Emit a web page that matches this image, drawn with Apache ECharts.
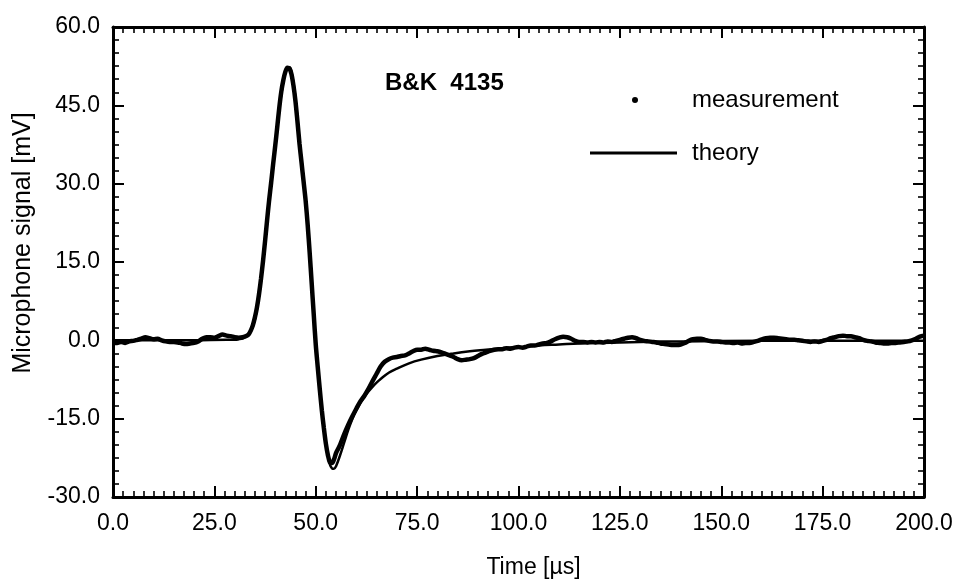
<!DOCTYPE html>
<html>
<head>
<meta charset="utf-8">
<script src="https://cdn.jsdelivr.net/npm/echarts@6/dist/echarts.min.js"></script>
<style>
html,body{margin:0;padding:0;background:#fff;}
#chart{width:957px;height:579px;}
</style>
</head>
<body>
<div id="chart"></div>
<script>
// ---- Data ----
const xTicks = [0, 25, 50, 75, 100, 125, 150, 175, 200];
const yTicks = [-30, -15, 0, 15, 30, 45, 60];

// measurement: three sampling segments
const measSeg1Start = 0, measSeg1Step = 1; // t = 0..32
const measSeg1 = [-0.4,-0.5,-0.3,-0.5,-0.2,-0.1,0.1,0.3,0.6,0.4,0.2,0.3,0.0,-0.2,-0.3,-0.3,-0.4,-0.6,-0.7,-0.6,-0.5,-0.2,0.3,0.6,0.6,0.5,0.8,1.1,0.9,0.8,0.6,0.5,0.6];
const measSeg2Start = 33, measSeg2Step = 0.5; // t = 33..56
const measSeg2 = [0.9,1.2,1.9,2.9,4.4,6.3,8.8,11.8,15.2,19.0,23.0,26.8,30.2,33.8,37.2,40.8,44.5,47.6,49.8,51.4,52.2,52.1,51.0,48.8,45.8,41.8,37.6,34.0,30.4,26.8,22.2,16.8,10.9,5.0,-0.8,-5.2,-9.4,-13.4,-16.8,-19.8,-22.0,-23.4,-23.5,-22.8,-21.6,-20.8,-20.0];
const measSeg3Start = 57, measSeg3Step = 1; // t = 57..200
const measSeg3 = [-18.0,-16.2,-14.6,-13.1,-11.7,-10.6,-9.3,-7.8,-6.4,-5.0,-4.1,-3.6,-3.3,-3.2,-3.0,-2.9,-2.5,-2.1,-1.8,-1.8,-1.6,-1.8,-2.0,-2.1,-2.3,-2.6,-2.9,-3.2,-3.6,-3.8,-3.7,-3.6,-3.4,-3.0,-2.6,-2.3,-2.0,-1.8,-1.7,-1.7,-1.5,-1.6,-1.4,
-1.3,-1.4,-1.2,-1.0,-1.0,-0.8,-0.6,-0.5,-0.2,0.2,0.5,0.7,0.6,0.3,-0.1,-0.3,-0.3,-0.4,-0.3,-0.4,
-0.3,-0.4,-0.2,-0.3,-0.1,0.1,0.3,0.5,0.6,0.4,0.1,-0.1,-0.2,-0.3,-0.4,-0.6,-0.7,-0.8,-0.9,-0.9,
-0.8,-0.5,-0.1,0.2,0.3,0.3,0.1,-0.1,-0.2,-0.2,-0.3,-0.4,-0.4,-0.5,-0.4,-0.6,-0.5,-0.5,-0.3,-0.1,
0.2,0.4,0.5,0.5,0.4,0.3,0.2,0.1,0.1,0.0,-0.1,-0.2,-0.3,-0.2,-0.3,-0.1,0.1,0.4,0.6,0.8,
0.9,0.8,0.8,0.6,0.4,0.1,-0.1,-0.2,-0.4,-0.5,-0.6,-0.6,-0.5,-0.5,-0.4,-0.3,-0.2,0.0,0.3,0.7,0.9];

const theoryTime = [0,10,20,28,30,31,32,33,34,35,36,37,38,39,40,41,42,42.5,43,43.5,44,44.5,45,46,47,48,49,50,51,52,53,53.5,54,54.5,55,56,57,58,59,60,61,62,63,64,65,66,68,70,73,76,80,84,88,92,96,100,105,110,115,120,130,140,160,180,200];
const theoryValue = [0,0,0,0.1,0.1,0.2,0.4,0.9,1.8,4.0,8.5,15.0,22.8,30.0,37.0,44.3,49.6,51.4,52.2,52.3,51.3,49.3,46.3,38.0,30.8,22.5,11.5,-0.5,-9.5,-17.0,-22.0,-23.8,-24.5,-24.6,-24.1,-22.0,-19.6,-17.2,-15.1,-13.4,-12.0,-10.8,-9.8,-8.9,-8.1,-7.4,-6.2,-5.4,-4.4,-3.7,-3.0,-2.5,-2.1,-1.8,-1.5,-1.3,-1.0,-0.8,-0.6,-0.5,-0.3,-0.2,-0.1,-0.1,-0.1];

// ---- Build series data ----
function seg(start, step, vals) { return vals.map((v, i) => [start + i * step, v]); }
const measData = [].concat(
  seg(measSeg1Start, measSeg1Step, measSeg1),
  seg(measSeg2Start, measSeg2Step, measSeg2),
  seg(measSeg3Start, measSeg3Step, measSeg3)
);
const theoryData = theoryTime.map((t, i) => [t, theoryValue[i]]);

const FONT = 'Liberation Sans, Arial, Helvetica, sans-serif';
const axisLineStyle = { color: '#000', width: 3 };
const majorTick = { inside: true, length: 11, lineStyle: { color: '#000', width: 2 } };
const xMinor = { show: true, splitNumber: 10, length: 6, lineStyle: { color: '#000', width: 1.6 } };
const yMinor = { show: true, splitNumber: 6, length: 6, lineStyle: { color: '#000', width: 1.6 } };
const fmt = v => v.toFixed(1);

const chart = echarts.init(document.getElementById('chart'), null, { renderer: 'canvas' });
chart.setOption({
  animation: false,
  backgroundColor: '#fff',
  textStyle: { fontFamily: FONT, color: '#000' },
  title: {
    text: 'B&K  4135',
    left: 385, top: 71, padding: 0,
    textStyle: { fontFamily: FONT, fontSize: 24, fontWeight: 'bold', color: '#000' }
  },
  legend: [
    {
      data: ['measurement'], left: 632, top: 88, padding: 0,
      icon: 'circle', itemWidth: 6, itemHeight: 6, selectedMode: false,
      textStyle: { fontFamily: FONT, fontSize: 24, color: '#000', padding: [0, 0, 0, 49] }
    },
    {
      data: ['theory'], left: 590, top: 141, padding: 0,
      icon: 'rect', itemWidth: 87, itemHeight: 3, selectedMode: false,
      textStyle: { fontFamily: FONT, fontSize: 24, color: '#000', padding: [0, 0, 0, 10] }
    }
  ],
  grid: { left: 113, right: 33, top: 27, bottom: 82, containLabel: false, outerBoundsMode: 'none' },
  xAxis: [
    {
      type: 'value', min: xTicks[0], max: xTicks[xTicks.length - 1], interval: xTicks[1] - xTicks[0],
      position: 'bottom',
      axisLine: { onZero: false, lineStyle: axisLineStyle },
      axisTick: majorTick, minorTick: xMinor,
      splitLine: { show: false }, minorSplitLine: { show: false },
      axisLabel: { margin: 15, fontSize: 23, color: '#000', fontFamily: FONT, formatter: fmt },
      name: 'Time [µs]', nameLocation: 'middle', nameGap: 59,
      nameTextStyle: { fontFamily: FONT, fontSize: 23, color: '#000', padding: [0, 0, 0, 30] }
    },
    {
      type: 'value', min: xTicks[0], max: xTicks[xTicks.length - 1], interval: xTicks[1] - xTicks[0],
      position: 'top',
      axisLine: { onZero: false, lineStyle: axisLineStyle },
      axisTick: majorTick, minorTick: xMinor,
      splitLine: { show: false }, minorSplitLine: { show: false },
      axisLabel: { show: false }
    }
  ],
  yAxis: [
    {
      type: 'value', min: yTicks[0], max: yTicks[yTicks.length - 1], interval: yTicks[1] - yTicks[0],
      position: 'left',
      axisLine: { onZero: false, lineStyle: axisLineStyle },
      axisTick: majorTick, minorTick: yMinor,
      splitLine: { show: false }, minorSplitLine: { show: false },
      axisLabel: { margin: 13, fontSize: 23, color: '#000', fontFamily: FONT, formatter: fmt },
      name: 'Microphone signal [mV]', nameLocation: 'middle', nameGap: 77,
      nameTextStyle: { fontFamily: FONT, fontSize: 25, color: '#000', padding: [0, 0, 0, 38] }
    },
    {
      type: 'value', min: yTicks[0], max: yTicks[yTicks.length - 1], interval: yTicks[1] - yTicks[0],
      position: 'right',
      axisLine: { onZero: false, lineStyle: axisLineStyle },
      axisTick: majorTick, minorTick: yMinor,
      splitLine: { show: false }, minorSplitLine: { show: false },
      axisLabel: { show: false }
    }
  ],
  series: [
    {
      name: 'measurement', type: 'line', xAxisIndex: 0, yAxisIndex: 0,
      data: measData, showSymbol: false, symbol: 'circle', smooth: 0.3,
      lineStyle: { color: '#000', width: 4.5 }, itemStyle: { color: '#000' },
      clip: true
    },
    {
      name: 'theory', type: 'line', xAxisIndex: 0, yAxisIndex: 0,
      data: theoryData, showSymbol: false, symbol: 'none', smooth: 0.4,
      lineStyle: { color: '#000', width: 2.5 }, itemStyle: { color: '#000' },
      clip: true
    }
  ]
});
</script>
</body>
</html>
